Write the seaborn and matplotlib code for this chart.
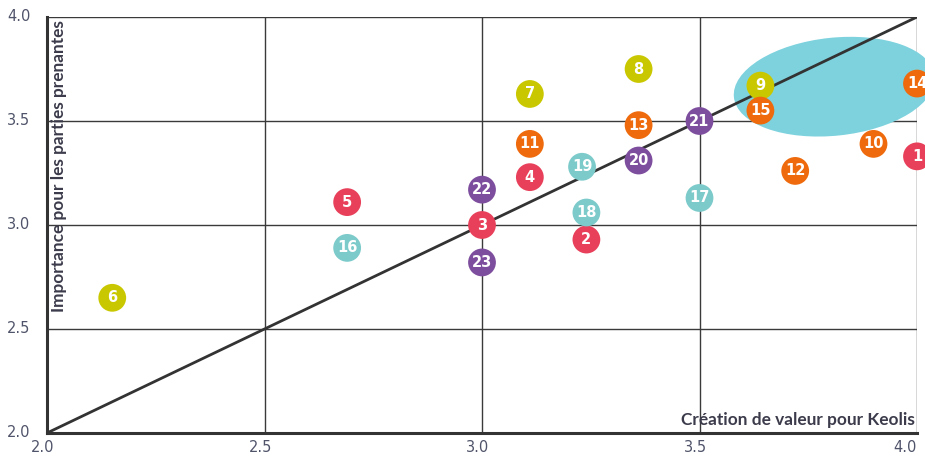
import matplotlib
matplotlib.use("Agg")
import matplotlib.pyplot as plt
import matplotlib.transforms as mtransforms
from matplotlib.patches import Ellipse
import seaborn as sns
import pandas as pd

# ---- data ----
labels = ["1", "2", "3", "4", "5", "6", "7", "8", "9", "10", "11", "12",
          "13", "14", "15", "16", "17", "18", "19", "20", "21", "22", "23"]
creation_valeur = [4.00, 3.24, 3.00, 3.11, 2.69, 2.15, 3.11, 3.36, 3.64, 3.90, 3.11, 3.72,
                   3.36, 4.00, 3.64, 2.69, 3.50, 3.24, 3.23, 3.36, 3.50, 3.00, 3.00]
importance = [3.33, 2.93, 3.00, 3.23, 3.11, 2.65, 3.63, 3.75, 3.67, 3.39, 3.39, 3.26,
              3.48, 3.68, 3.55, 2.89, 3.13, 3.06, 3.28, 3.31, 3.50, 3.17, 2.82]
groups = ["A", "A", "A", "A", "A", "B", "B", "B", "B", "C", "C", "C",
          "C", "C", "C", "D", "D", "D", "D", "E", "E", "E", "E"]
group_colors = {"A": "#E8405A", "B": "#C9C800", "C": "#EE6A0C", "D": "#7CCACA", "E": "#7E4E9E"}
x_ticks = [2.0, 2.5, 3.0, 3.5, 4.0]
y_ticks = [2.0, 2.5, 3.0, 3.5, 4.0]
x_title = "Création de valeur pour Keolis"
y_title = "Importance pour les parties prenantes"

df = pd.DataFrame({"x": creation_valeur, "y": importance, "g": groups, "lab": labels})

sns.set_theme(style="white")
plt.rcParams["font.family"] = ["DejaVu Sans"]

fig = plt.figure(figsize=(9.25, 4.57), dpi=100)
ax = fig.add_axes([47 / 925, 1 - 433 / 457, 870 / 925, 416 / 457])
ax.set_xlim(2.0, 4.0)
ax.set_ylim(2.0, 4.0)

# grid lines
for v in x_ticks[1:]:
    ax.axvline(v, color="#3a3a3a", lw=1.0, zorder=1)
for v in y_ticks[1:]:
    ax.axhline(v, color="#3a3a3a", lw=1.0, zorder=1)

# highlight ellipse (in pixel units, anchored at data point)
trans = mtransforms.IdentityTransform() + mtransforms.ScaledTranslation(3.81, 3.665, ax.transData)
ell = Ellipse((0, 0), 202, 98, angle=6, transform=trans, facecolor="#7DD2DE",
              edgecolor="none", zorder=2, clip_on=False)
ax.add_patch(ell)

# diagonal
ax.plot([2.0, 4.0], [2.0, 4.0], color="#333333", lw=2.0, zorder=3)

sns.scatterplot(data=df, x="x", y="y", hue="g", palette=group_colors, s=400,
                edgecolor="none", legend=False, ax=ax, zorder=4, clip_on=False)
for xx, yy, lab in zip(creation_valeur, importance, labels):
    ax.text(xx, yy, lab, ha="center", va="center", color="white", fontsize=10.5,
            fontweight="bold", zorder=5, clip_on=False)

for s in ["top", "right"]:
    ax.spines[s].set_visible(False)
for s in ["left", "bottom"]:
    ax.spines[s].set_color("#333333")
    ax.spines[s].set_linewidth(2.2)
    ax.spines[s].set_zorder(6)

ax.set_xticks(x_ticks)
ax.set_yticks(y_ticks)
ax.set_xticklabels([f"{v:.1f}" for v in x_ticks])
ax.set_yticklabels([f"{v:.1f}" for v in y_ticks])
ax.tick_params(axis="both", length=0, labelsize=10.5, labelcolor="#50546a")
ax.tick_params(axis="x", pad=5)
ax.tick_params(axis="y", pad=12)
for i, t in enumerate(ax.get_xticklabels()):
    dx = -12 if i == len(x_ticks) - 1 else -4
    t.set_transform(t.get_transform() + mtransforms.ScaledTranslation(dx / 100, 0, fig.dpi_scale_trans))
for t in ax.get_yticklabels():
    t.set_transform(t.get_transform() + mtransforms.ScaledTranslation(0, 2 / 100, fig.dpi_scale_trans))

ax.set_xlabel("")
ax.set_ylabel("")

ax.text(0.9975, 0.032, x_title, transform=ax.transAxes, ha="right", va="center",
        fontsize=12.4, fontweight="bold", color="#3b3b4b", zorder=7, family=["Lato", "DejaVu Sans"])
ax.text(0.014, 0.992, y_title, transform=ax.transAxes, ha="center", va="top",
        rotation=90, fontsize=12.4, fontweight="bold", color="#3b3b4b", zorder=7,
        family=["Lato", "DejaVu Sans"])

fig.savefig("out.png", dpi=100)
